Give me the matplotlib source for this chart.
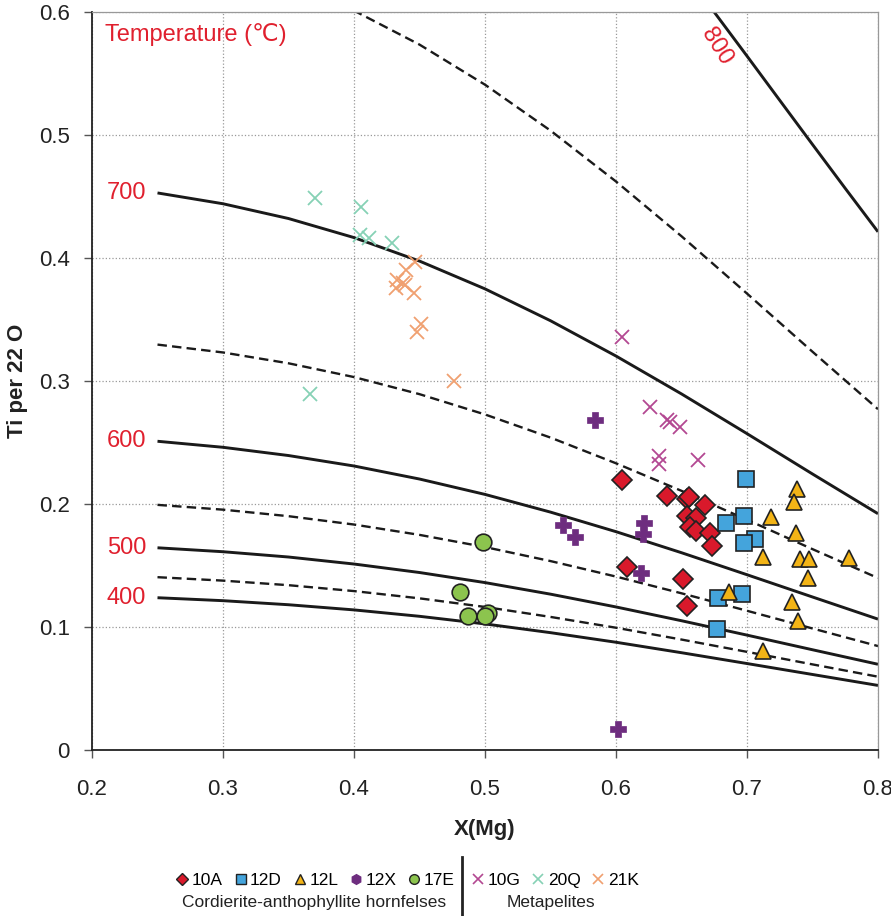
import matplotlib
matplotlib.use("Agg")
import matplotlib.pyplot as plt
from matplotlib.lines import Line2D
from matplotlib.ticker import FuncFormatter

plt.rcParams['font.family'] = ['Liberation Sans', 'DejaVu Sans']

# isotherms (Ti per 22 O vs X(Mg))
iso_x = [0.25, 0.30, 0.35, 0.40, 0.45, 0.50, 0.55, 0.60, 0.65, 0.70, 0.75, 0.80]
t400 = [0.1238, 0.1214, 0.1181, 0.1139, 0.1087, 0.1025, 0.0954, 0.0876, 0.0791, 0.0703, 0.0614, 0.0525]
t450 = [0.1405, 0.1377, 0.1340, 0.1292, 0.1233, 0.1163, 0.1082, 0.0994, 0.0898, 0.0798, 0.0696, 0.0596]
t500 = [0.1644, 0.1612, 0.1569, 0.1512, 0.1443, 0.1361, 0.1267, 0.1163, 0.1051, 0.0934, 0.0815, 0.0697]
t550 = [0.1993, 0.1954, 0.1901, 0.1833, 0.1749, 0.1650, 0.1536, 0.1410, 0.1274, 0.1132, 0.0988, 0.0845]
t600 = [0.2510, 0.2461, 0.2394, 0.2309, 0.2203, 0.2078, 0.1934, 0.1775, 0.1604, 0.1425, 0.1244, 0.1064]
t650 = [0.3296, 0.3232, 0.3144, 0.3032, 0.2893, 0.2728, 0.2540, 0.2331, 0.2107, 0.1872, 0.1633, 0.1398]
t700 = [0.4529, 0.4441, 0.4321, 0.4166, 0.3975, 0.3749, 0.3490, 0.3203, 0.2895, 0.2572, 0.2244, 0.1921]
t750 = [0.6535, 0.6408, 0.6234, 0.6011, 0.5735, 0.5409, 0.5036, 0.4622, 0.4177, 0.3711, 0.3238, 0.2771]
iso800_x = [0.65, 0.675, 0.70, 0.725, 0.75, 0.775, 0.80]
t800 = [0.6350, 0.5999, 0.5642, 0.5282, 0.4923, 0.4566, 0.4213]

# Cordierite-anthophyllite hornfelses
a10_x = [0.6048, 0.6387, 0.654, 0.656, 0.6679, 0.6545, 0.6611, 0.6565, 0.6611, 0.6718, 0.673, 0.6081, 0.6514, 0.6545]
a10_y = [0.2195, 0.2065, 0.2038, 0.2054, 0.1992, 0.1902, 0.1883, 0.1816, 0.1783, 0.1767, 0.1659, 0.1485, 0.139, 0.1173]
d12_x = [0.699, 0.698, 0.6837, 0.7061, 0.698, 0.6781, 0.6959, 0.6768]
d12_y = [0.2203, 0.1905, 0.1843, 0.1715, 0.168, 0.1238, 0.1266, 0.0981]
l12_x = [0.7379, 0.7361, 0.718, 0.7374, 0.7125, 0.7405, 0.7476, 0.7779, 0.7468, 0.6865, 0.7341, 0.7392, 0.7125]
l12_y = [0.212, 0.2019, 0.1892, 0.1762, 0.1572, 0.1553, 0.155, 0.1564, 0.1396, 0.1287, 0.1206, 0.1052, 0.0807]
x12_x = [0.584, 0.5598, 0.5687, 0.6214, 0.6204, 0.6188, 0.6013]
x12_y = [0.268, 0.183, 0.1734, 0.1848, 0.1754, 0.1436, 0.0168]
e17_x = [0.4982, 0.4809, 0.4873, 0.5025, 0.5]
e17_y = [0.1688, 0.1287, 0.1092, 0.1111, 0.109]
# Metapelites
g10_x = [0.6048, 0.626, 0.6392, 0.6412, 0.6489, 0.6331, 0.6331, 0.6628]
g10_y = [0.3355, 0.2786, 0.2683, 0.267, 0.2629, 0.239, 0.2325, 0.2358]
q20_x = [0.370, 0.4053, 0.4046, 0.4117, 0.4288, 0.3664]
q20_y = [0.449, 0.4417, 0.4187, 0.416, 0.4125, 0.2894]
k21_x = [0.4466, 0.4397, 0.4326, 0.4377, 0.432, 0.439, 0.4458, 0.451, 0.4478, 0.4763]
k21_y = [0.3965, 0.390, 0.382, 0.380, 0.3753, 0.378, 0.3713, 0.3463, 0.3396, 0.300]

RED = '#e0202e'
EDGE = '#222222'

fig = plt.figure(figsize=(8.91, 9.16), dpi=100)
ax = fig.add_axes([92 / 891, 1 - 750 / 916, 786 / 891, 738 / 916])

# isotherm lines
solid = dict(color='#1a1a1a', lw=2.1, zorder=2, solid_capstyle='butt', solid_joinstyle='round')
dashed = dict(color='#1a1a1a', lw=1.7, ls=(0, (4, 2.2)), zorder=2)
for ys in [t400, t500, t600, t700]:
    ax.plot(iso_x, ys, **solid)
ax.plot(iso800_x, t800, **solid)
for ys in [t450, t550, t650, t750]:
    ax.plot(iso_x, ys, **dashed)

# samples
ax.plot(a10_x, a10_y, ls='none', marker='D', ms=10, mfc='#d9192b', mec=EDGE, mew=1.2, zorder=3)
ax.plot(d12_x, d12_y, ls='none', marker='s', ms=11.5, mfc='#44a4dc', mec=EDGE, mew=1.2, zorder=3)
ax.plot(l12_x, l12_y, ls='none', marker='^', ms=12, mfc='#f3b416', mec=EDGE, mew=1.2, zorder=3)
ax.plot(x12_x, x12_y, ls='none', marker='P', ms=12, mfc='#6e2d7f', mec='#6e2d7f', mew=0.5, zorder=3)
ax.plot(e17_x, e17_y, ls='none', marker='o', ms=12, mfc='#8cc44e', mec=EDGE, mew=1.2, zorder=3)
ax.plot(g10_x, g10_y, ls='none', marker='x', ms=10, mec='#b34892', mew=1.3, zorder=3)
ax.plot(q20_x, q20_y, ls='none', marker='x', ms=10, mec='#86d1b5', mew=1.3, zorder=3)
ax.plot(k21_x, k21_y, ls='none', marker='x', ms=10, mec='#f0a070', mew=1.3, zorder=3)

# temperature labels
ax.text(0.2099, 0.5813, 'Temperature (\u2103)', color=RED, fontsize=17, ha='left', va='center')
for lab, yv in [('700', t700[0]), ('600', t600[0]), ('500', t500[0]), ('400', t400[0])]:
    ax.text(0.2415, yv, lab, color=RED, fontsize=17, ha='right', va='center')
ax.text(0.6769, 0.5718, '800', color=RED, fontsize=17, ha='center', va='center', rotation=-58)

ax.set_xlim(0.2, 0.8)
ax.set_ylim(0, 0.6)
ax.set_xticks([0.2, 0.3, 0.4, 0.5, 0.6, 0.7, 0.8])
ax.set_yticks([0, 0.1, 0.2, 0.3, 0.4, 0.5, 0.6])
ax.xaxis.set_major_formatter(FuncFormatter(lambda v, p: f'{v:.1f}'))
ax.yaxis.set_major_formatter(FuncFormatter(lambda v, p: '0' if abs(v) < 1e-9 else f'{v:.1f}'))
ax.tick_params(axis='both', labelsize=16, labelcolor='#222222', color='#555555', length=6, width=1)
ax.tick_params(axis='x', pad=15)
ax.tick_params(axis='y', pad=10)
ax.grid(True, color='#999999', ls=':', lw=0.9)
ax.set_axisbelow(True)
for s in ['left', 'bottom']:
    ax.spines[s].set_color('#222222')
    ax.spines[s].set_linewidth(1.3)
for s in ['top', 'right']:
    ax.spines[s].set_color('#999999')
    ax.spines[s].set_linewidth(0.9)

fig.text(485 / 891, 1 - 830 / 916, 'X(Mg)', fontsize=16, fontweight='bold', ha='center', va='center', color='#222222')
fig.text(18 / 891, 1 - 381 / 916, 'Ti per 22 O', fontsize=16, fontweight='bold', ha='center', va='center',
         rotation=90, color='#222222')

# legend
left_handles = [
    Line2D([], [], ls='none', marker='D', ms=6, mfc='#d9192b', mec=EDGE, mew=1),
    Line2D([], [], ls='none', marker='s', ms=7, mfc='#44a4dc', mec=EDGE, mew=1),
    Line2D([], [], ls='none', marker='^', ms=7, mfc='#f3b416', mec=EDGE, mew=1),
    Line2D([], [], ls='none', marker='h', ms=7, mfc='#6e2d7f', mec='#6e2d7f', mew=1),
    Line2D([], [], ls='none', marker='o', ms=7, mfc='#8cc44e', mec=EDGE, mew=1),
]
right_handles = [
    Line2D([], [], ls='none', marker='x', ms=7, mec='#b34892', mew=1.2),
    Line2D([], [], ls='none', marker='x', ms=7, mec='#86d1b5', mew=1.2),
    Line2D([], [], ls='none', marker='x', ms=7, mec='#f0a070', mew=1.2),
]
leg_kw = dict(loc='center', frameon=False, fontsize=12.5, handlelength=0.8, handletextpad=0.15,
              columnspacing=0.62, borderpad=0, borderaxespad=0)
fig.legend(left_handles, ['10A', '12D', '12L', '12X', '17E'], ncol=5,
           bbox_to_anchor=(315 / 891, 1 - 880 / 916), **leg_kw)
fig.legend(right_handles, ['10G', '20Q', '21K'], ncol=3,
           bbox_to_anchor=(555 / 891, 1 - 880 / 916), **leg_kw)
fig.text(314 / 891, 1 - 903 / 916, 'Cordierite-anthophyllite hornfelses', fontsize=12.5, ha='center', va='center',
         color='#222222')
fig.text(551 / 891, 1 - 903 / 916, 'Metapelites', fontsize=12.5, ha='center', va='center', color='#222222')
fig.add_artist(Line2D([461.7 / 891, 461.7 / 891], [0, 1 - 857 / 916], color='#222222', lw=2))

fig.savefig('out.png', dpi=100)
